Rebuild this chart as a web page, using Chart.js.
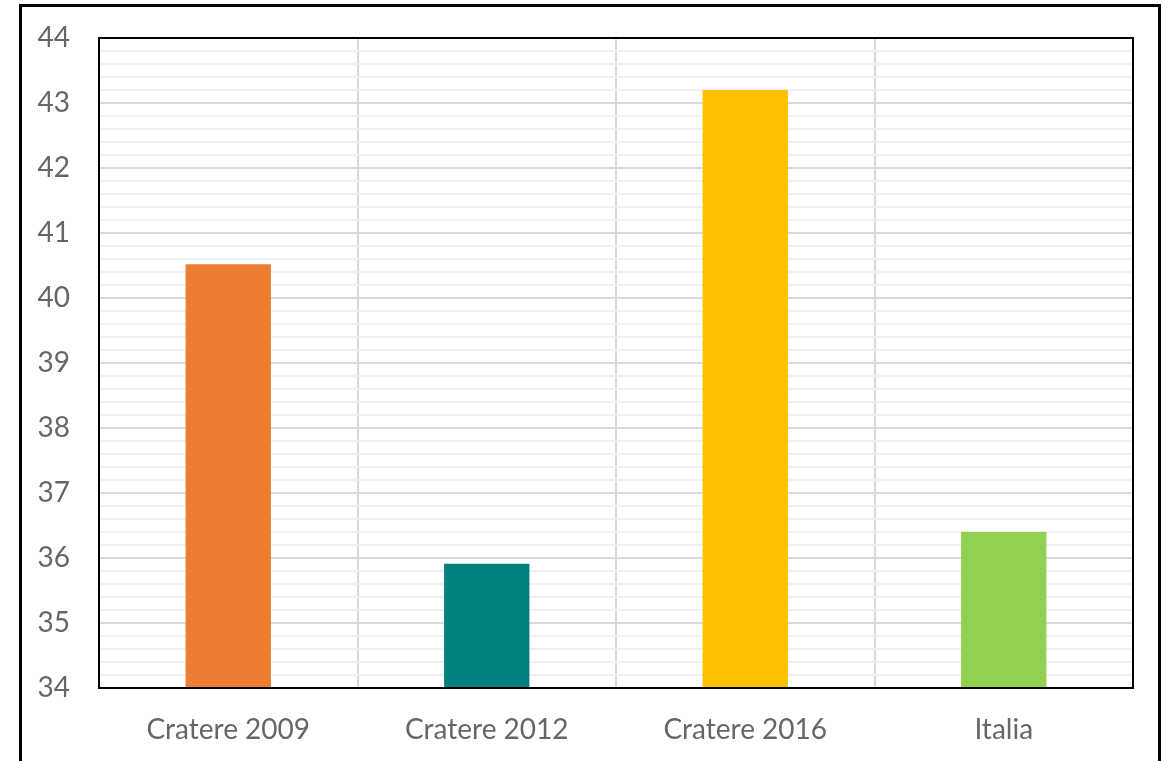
<!DOCTYPE html>
<html>
<head>
<meta charset="utf-8">
<script src="https://cdn.jsdelivr.net/npm/chart.js@4/dist/chart.umd.min.js"></script>
<style>
  html, body { margin: 0; padding: 0; background: #fff; }
  #wrap { width: 1173px; height: 761px; }
</style>
</head>
<body>
<div id="wrap"><canvas id="chart" width="1173" height="761"></canvas></div>
<script>
// chart data
const categories = ["Cratere 2009", "Cratere 2012", "Cratere 2016", "Italia"];
const values = [40.52, 35.91, 43.2, 36.4];
const barColors = ["#ED7D31", "#008080", "#FFC000", "#92D050"];
const yMin = 34;
const yMax = 44;

const isMajor = (v) => Math.abs(v - Math.round(v)) < 1e-6;

// outer frame + plot area border
const frames = {
    id: "frames",
    beforeDraw(chart) {
        const c = chart.ctx;
        c.save();
        c.fillStyle = "#fff";
        c.fillRect(0, 0, chart.width, chart.height);
        c.strokeStyle = "#000";
        c.lineWidth = 3;
        c.strokeRect(20.5, 5.5, 1139, 800);
        c.restore();
    },
    afterDraw(chart) {
        const a = chart.chartArea;
        const c = chart.ctx;
        c.save();
        c.strokeStyle = "#000";
        c.lineWidth = 2;
        c.strokeRect(a.left, a.top, a.right - a.left, a.bottom - a.top);
        c.restore();
    }
};

new Chart(document.getElementById("chart"), {
    type: "bar",
    data: {
        labels: categories,
        datasets: [{
            data: values,
            backgroundColor: barColors,
            barPercentage: 0.33,
            categoryPercentage: 1
        }]
    },
    options: {
        responsive: false,
        animation: false,
        layout: { padding: { top: 38, right: 40, bottom: 15, left: 18 } },
        plugins: { legend: { display: false }, tooltip: { enabled: false } },
        scales: {
            x: {
                z: 1,
                afterFit(scale) { scale.height = 58; },
                grid: { color: "#d9d9d9", lineWidth: 2, offset: true, drawTicks: false },
                border: { display: false },
                ticks: {
                    color: "#666",
                    padding: 25,
                    font: { family: "Lato", size: 28 }
                }
            },
            y: {
                min: yMin,
                max: yMax,
                afterFit(scale) {
                    scale.width = 81;
                    scale.paddingTop = 0;
                    scale.paddingBottom = 0;
                },
                afterBuildTicks(scale) {
                    const t = [];
                    for (let i = 0; i <= 50; i++) t.push({ value: yMin + i * 0.2 });
                    scale.ticks = t;
                },
                grid: {
                    drawTicks: false,
                    lineWidth: 2,
                    color: (ctx) => isMajor(ctx.tick.value) ? "#d9d9d9" : "#f0f0f0"
                },
                border: { display: false },
                ticks: {
                    autoSkip: false,
                    color: "#666",
                    padding: 29,
                    font: { family: "Lato", size: 28 },
                    callback: (v) => isMajor(v) ? Math.round(v) : ""
                }
            }
        }
    },
    plugins: [frames]
});
</script>
</body>
</html>
